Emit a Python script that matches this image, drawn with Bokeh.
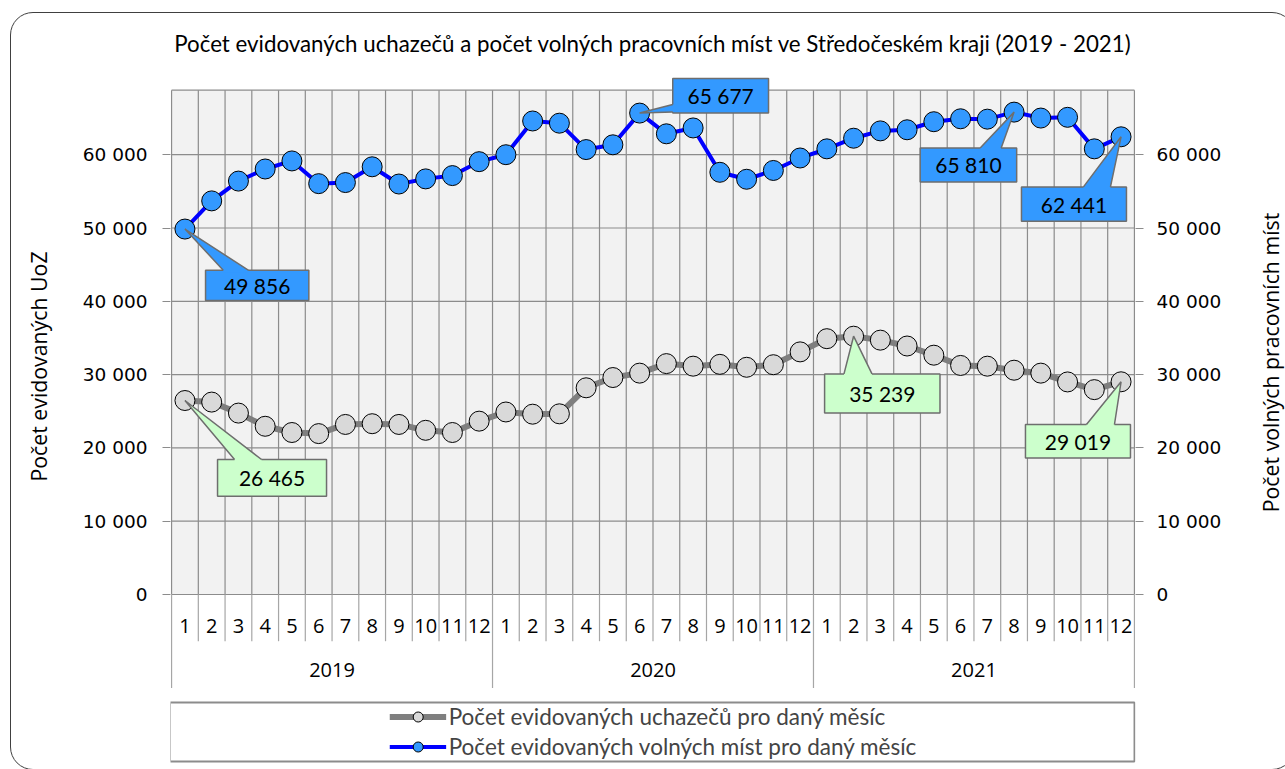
import math
from bokeh.plotting import figure
from bokeh.models import (Range1d, LinearAxis, FixedTicker, Legend, LegendItem, Label,
                          ColumnDataSource, InlineStyleSheet)
from bokeh.core.properties import value
from bokeh.embed import file_html
from bokeh.resources import INLINE

# ---------------- data ----------------
title_text = "Počet evidovaných uchazečů a počet volných pracovních míst ve Středočeském kraji (2019 - 2021)"
years = ["2019", "2020", "2021"]
months = ["1", "2", "3", "4", "5", "6", "7", "8", "9", "10", "11", "12"]
series_names = ["Počet evidovaných uchazečů pro daný měsíc",
                "Počet evidovaných volných míst pro daný měsíc"]
left_axis_title = "Počet evidovaných UoZ"
right_axis_title = "Počet volných pracovních míst"

uchazeci = [26465, 26250, 24750, 22950, 22100, 21950, 23200, 23300, 23200, 22400, 22100, 23650,
            24900, 24600, 24650, 28200, 29600, 30200, 31500, 31150, 31400, 31000, 31350, 33100,
            34900, 35239, 34700, 33900, 32650, 31250, 31150, 30600, 30200, 29000, 27950, 29019]
volna_mista = [49856, 53700, 56400, 58050, 59150, 56050, 56200, 58350, 56000, 56700, 57150, 59050,
               60000, 64600, 64300, 60700, 61350, 65677, 62850, 63650, 57600, 56650, 57850, 59550,
               60800, 62250, 63250, 63400, 64500, 64900, 64850, 65810, 65000, 65100, 60800, 62441]
y_ticks = [0, 10000, 20000, 30000, 40000, 50000, 60000]
plot_top_value = 68800

# callouts: month index (1-based) per series
callouts_uchazeci = [1, 26, 36]
callouts_mista = [1, 18, 32, 36]

# ---------------- layout ----------------
W, H = 1285, 769
FL, FR, FT, FB = 170, 150, 70, 0
frame_w = W - FL - FR
frame_h = H - FT - FB
ZERO = 594                               # page y of value 0
zero_px = ZERO - FT
n = len(uchazeci)
x_lo, x_hi = 0.5 - 0.04, n + 0.5 + 0.04
PXX = frame_w / (x_hi - x_lo)
PXY = 73.3 / 10000


def dx(px):
    return px / PXX


def dy(px):
    return px / PXY


def page_x(px):
    return x_lo + dx(px - FL)


def page_y(py):
    return dy(ZERO - py)


y_hi = dy(zero_px)
y_lo = -dy(frame_h - zero_px)
xs = list(range(1, n + 1))

p = figure(width=W, height=H, output_backend="svg", toolbar_location=None,
           x_range=Range1d(x_lo, x_hi), y_range=Range1d(y_lo, y_hi),
           x_axis_location=None, min_border_left=FL, min_border_right=FR,
           min_border_top=FT, min_border_bottom=FB, background_fill_color="white",
           border_fill_color="white", outline_line_color=None)
p.xgrid.visible = False
p.ygrid.visible = False

# outer rounded frame (decoration, drawn with CSS)
p.stylesheets = [InlineStyleSheet(css="""
:host { position: relative; overflow: hidden; }
:host::after { content: ''; position: absolute; left: 10px; top: 12px; width: 1285px;
  height: 758px; border: 1.5px solid #404040; border-radius: 23px; pointer-events: none;
  box-sizing: border-box; z-index: 10; }
""")]

# title
p.title.text = title_text
p.title.align = "center"
p.title.text_font = "Lato"
p.title.text_font_size = "22.3px"
p.title.text_font_style = "normal"
p.title.text_color = "#000000"
p.title.standoff = 28

# axes
labels = {t: f"{t:,}".replace(",", " ") for t in y_ticks}
left = p.yaxis[0]
right = LinearAxis()
p.add_layout(right, "right")
for ax, so in ((left, 15), (right, 13)):
    ax.ticker = FixedTicker(ticks=y_ticks)
    ax.major_label_overrides = labels
    ax.axis_line_color = None
    ax.major_tick_line_color = "#8c8c8c"
    ax.major_tick_out = 8
    ax.major_tick_in = 0
    ax.minor_tick_line_color = None
    ax.major_label_text_font = "DejaVu Sans"
    ax.major_label_text_font_size = "18.5px"
    ax.major_label_text_color = "#000000"
    ax.major_label_standoff = so

# axis titles (placed in the side panels)
p.add_layout(Label(x=page_x(38), y=page_y(366), text=left_axis_title, angle=math.pi / 2,
                   text_align="center", text_baseline="middle", text_font="Open Sans",
                   text_font_size="21.3px", text_color="#000000"), "left")
p.add_layout(Label(x=page_x(1270), y=page_y(362), text=right_axis_title, angle=math.pi / 2,
                   text_align="center", text_baseline="middle", text_font="Open Sans",
                   text_font_size="21.3px", text_color="#000000"), "right")

# plot area background + gridlines
p.quad(left=0.5, right=n + 0.5, bottom=0, top=plot_top_value, fill_color="#f2f2f2",
       line_color=None)
p.segment(x0=0.5, x1=n + 0.5, y0=y_ticks, y1=y_ticks, line_color="#8c8c8c", line_width=1.2)
p.segment(x0=0.5, x1=n + 0.5, y0=plot_top_value, y1=plot_top_value, line_color="#8c8c8c",
          line_width=1.2)

bounds = [k + 0.5 for k in range(0, n + 1)]
p.segment(x0=bounds, x1=bounds, y0=[plot_top_value] * len(bounds), y1=[0] * len(bounds),
          line_color="#8c8c8c", line_width=1.2)
month_sep_bottom = -dy(46.7)
year_sep_bottom = -dy(93.5)
ybot = [year_sep_bottom if (k % len(months) == 0) else month_sep_bottom for k in range(0, n + 1)]
p.segment(x0=bounds, x1=bounds, y0=[0] * len(bounds), y1=ybot, line_color="#a6a6a6",
          line_width=1.2)

# category labels
month_labels = [months[i % len(months)] for i in range(n)]
p.text(x=xs, y=[-dy(31.5)] * n, text=month_labels, text_font=value("Open Sans"),
       text_font_size="20px", text_align="center", text_baseline="middle", text_color="#000000")
year_x = [len(months) * k + (len(months) + 1) / 2 for k in range(len(years))]
p.text(x=year_x, y=[-dy(75.5)] * len(years), text=years, text_font=value("Open Sans"),
       text_font_size="20px", text_align="center", text_baseline="middle", text_color="#000000")

# series
src = ColumnDataSource(dict(x=xs, u=uchazeci, v=volna_mista))
l1 = p.line("x", "u", source=src, line_color="#7f7f7f", line_width=6)
s1 = p.scatter("x", "u", source=src, size=20, fill_color="#d9d9d9", line_color="#000000",
               line_width=1)
l2 = p.line("x", "v", source=src, line_color="#0000ff", line_width=4)
s2 = p.scatter("x", "v", source=src, size=20, fill_color="#3399ff", line_color="#000000",
               line_width=1)


def callout(i, val, box, base, fill):
    bl, bt, bw, bh = box
    px0 = xs[i - 1]
    py0 = val
    x0 = px0 + dx(bl)
    x1 = px0 + dx(bl + bw)
    y0 = py0 - dy(bt)
    y1 = py0 - dy(bt + bh)
    edge, a, b = base
    if edge == "top":
        bxs = [px0, x0 + dx(a), x0 + dx(b)]
        bys = [py0, y0, y0]
        inner = [px0, x0 + dx(a), x0 + dx(a), x0 + dx(b), x0 + dx(b)]
        inner_y = [py0, y0, y0 - dy(2), y0 - dy(2), y0]
    else:
        bxs = [px0, x0, x0]
        bys = [py0, y0 - dy(a), y0 - dy(b)]
        inner = [px0, x0, x0 + dx(2), x0 + dx(2), x0]
        inner_y = [py0, y0 - dy(a), y0 - dy(a), y0 - dy(b), y0 - dy(b)]
    p.quad(left=x0, right=x1, top=y0, bottom=y1, fill_color=fill, line_color="#6e6e6e",
           line_width=1.5)
    p.patch(inner, inner_y, fill_color=fill, line_color=None)
    p.multi_line(xs=[[bxs[1], bxs[0], bxs[2]]], ys=[[bys[1], bys[0], bys[2]]],
                 line_color="#6e6e6e", line_width=1.5)
    p.text(x=[(x0 + x1) / 2], y=[(y0 + y1) / 2], text=[f"{val:,}".replace(",", " ")],
           text_font=value("Lato"), text_font_size="21px", text_align="center",
           text_baseline="middle", text_color="#000000")


geom_u = {1: ((32.6, 59, 109, 36.7), ("top", 17, 44)),
          26: ((-29, 37.7, 115.4, 39), ("top", 19.4, 47.4)),
          36: ((-95.6, 42.7, 105, 33.4), ("top", 61, 89))}
geom_v = {1: ((20.6, 41.1, 103.3, 30.3), ("top", 17.7, 42.7)),
          18: ((33.1, -34.6, 95.8, 34.4), ("left", 26, 33.5)),
          32: ((-93.9, 35.8, 96.5, 34), ("top", 60, 81)),
          36: ((-99.6, 50.1, 105, 34.3), ("top", 62, 89))}
for i in callouts_uchazeci:
    callout(i, uchazeci[i - 1], geom_u[i][0], geom_u[i][1], "#ccffcc")
for i in callouts_mista:
    callout(i, volna_mista[i - 1], geom_v[i][0], geom_v[i][1], "#3399ff")

# legend box
p.quad(left=0.5 - dx(1.5), right=n + 0.5, top=page_y(702), bottom=page_y(761),
       fill_color="white", line_color="#8c8c8c", line_width=1.8)

legend = Legend(items=[LegendItem(label=series_names[0], renderers=[l1, s1]),
                       LegendItem(label=series_names[1], renderers=[l2, s2])],
                location="bottom_center", orientation="vertical",
                border_line_color=None, background_fill_alpha=0,
                label_text_font="Lato", label_text_font_size="22.5px",
                glyph_width=57, glyph_height=25, label_height=25, label_standoff=3,
                spacing=3, padding=3, margin=9)
p.add_layout(legend)

open("out.html", "w").write(file_html(p, INLINE))
